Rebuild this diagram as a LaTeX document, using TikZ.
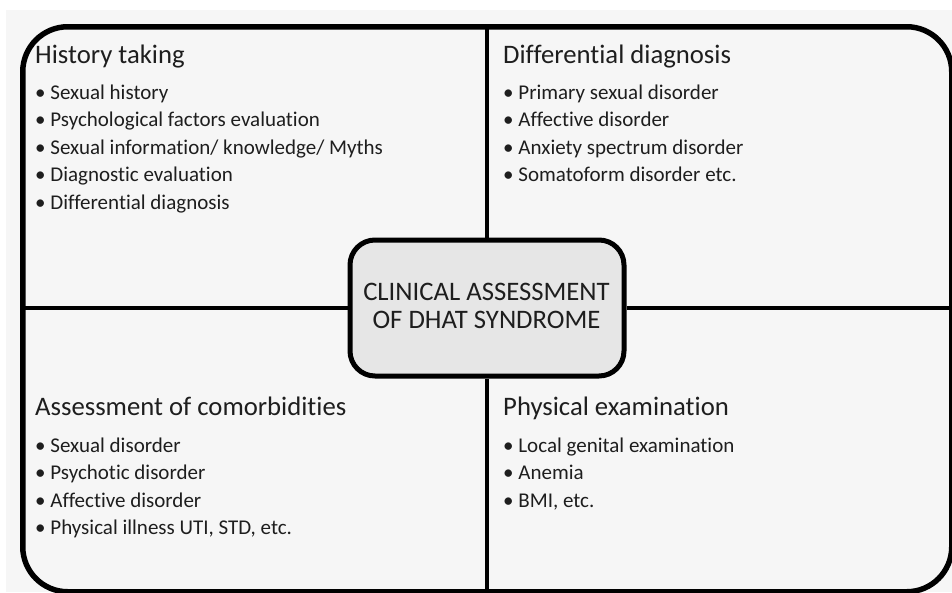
\documentclass[tikz,border=0pt]{standalone}
\usepackage{fontspec}
\setmainfont{Carlito}[Ligatures={NoCommon}]
\definecolor{bgfill}{HTML}{F6F6F6}
\definecolor{boxfill}{HTML}{E6E6E6}
\definecolor{ink}{HTML}{1E1E1E}
\begin{document}
\begin{tikzpicture}[x=1pt,y=-1pt,
  frame/.style={draw=black, line width=5.5pt, rounded corners=45pt, fill=bgfill, inner sep=0pt, anchor=north west},
  centerbox/.style={draw=black, line width=5pt, rounded corners=25pt, fill=boxfill, inner sep=0pt, minimum width=274pt, minimum height=136pt},
  divider/.style={draw=black, line width=4.5pt},
  ttl/.style={anchor=base west, inner sep=0pt, text=ink, font=\fontsize{26.7}{30}\selectfont},
  itm/.style={anchor=base west, inner sep=0pt, text=ink, font=\fontsize{21}{25}\selectfont},
  ctxt/.style={anchor=base, inner sep=0pt, text=ink, font=\fontsize{26.7}{30}\selectfont}]
\useasboundingbox (0,0) rectangle (952,592);
\fill[white] (0,0) rectangle (952,592);
\fill[bgfill] (6,10) rectangle (952,592);
\node[frame, minimum width=929pt, minimum height=565pt] (frame) at (20,24) {};
\node[centerbox] (center) at (487,308) {};
\draw[divider] (center.north) -- (center.north |- frame.north);
\draw[divider] (center.south) -- (center.south |- frame.south);
\draw[divider] (center.west) -- (center.west -| frame.west);
\draw[divider] (center.east) -- (center.east -| frame.east);
\node[ctxt] (c1) at (486.5,300) {CLINICAL ASSESSMENT};
\node[ctxt] (c2) at (486.5,328.5) {OF DHAT SYNDROME};
% top left
\node[ttl] (tlt) at (35,63) {History taking};
\foreach \t [count=\i] in {Sexual history, Psychological factors evaluation, Sexual information/ knowledge/ Myths, Diagnostic evaluation, Differential diagnosis}
  \node[itm] (tl\i) at (35,{99+27.5*(\i-1)}) {• \t};
% top right
\node[ttl] (trt) at (503,63) {Differential diagnosis};
\foreach \t [count=\i] in {Primary sexual disorder, Affective disorder, Anxiety spectrum disorder, Somatoform disorder etc.}
  \node[itm] (tr\i) at (503,{99+27.5*(\i-1)}) {• \t};
% bottom left
\node[ttl] (blt) at (35,415) {Assessment of comorbidities};
\foreach \t [count=\i] in {Sexual disorder, Psychotic disorder, Affective disorder, {Physical illness UTI, STD, etc.}}
  \node[itm] (bl\i) at (35,{452+27.5*(\i-1)}) {• \t};
% bottom right
\node[ttl] (brt) at (503,415) {Physical examination};
\foreach \t [count=\i] in {Local genital examination, Anemia, {BMI, etc.}}
  \node[itm] (br\i) at (503,{452+27.5*(\i-1)}) {• \t};
\end{tikzpicture}
\end{document}
